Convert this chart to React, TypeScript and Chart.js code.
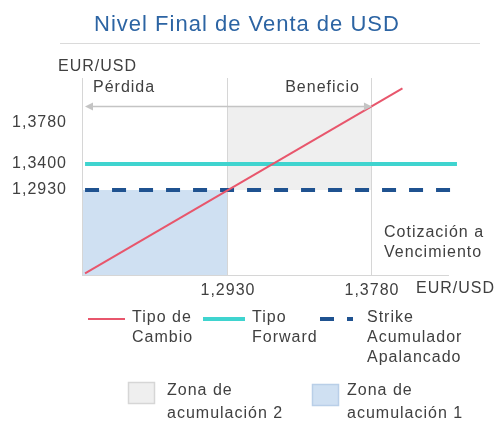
import React, { useEffect, useRef } from 'react';
import { Chart, registerables } from 'chart.js';

Chart.register(...registerables);

// ---- data ----
const titleText = 'Nivel Final de Venta de USD';
const axisUnit = 'EUR/USD';
const strikeLevel = 1.293; // Strike Acumulador / Zona 1 limit
const upperLevel = 1.378; // upper limit of Zona 2
const xTickValues = [1.293, 1.378];
const xTickLabels = ['1,2930', '1,3780'];
const yTickValues = [1.293, 1.3193, 1.3608]; // schematic positions as drawn
const yTickLabels = ['1,2930', '1,3400', '1,3780'];
const rateX = [1.2086, 1.396];
const rateY = [1.2086, 1.396];
const forwardX = [1.2086, 1.4282];
const forwardY = [1.3193, 1.3193];
const strikeX = [1.2086, 1.427];
const strikeY = [1.293, 1.293];
const xRange = [1.2068, 1.4229];
const yRange = [1.207, 1.4064];
const seriesLabels = [['Tipo de', 'Cambio'], ['Tipo', 'Forward'], ['Strike', 'Acumulador', 'Apalancado']];
const zoneLabels = [['Zona de', 'acumulación 2'], ['Zona de', 'acumulación 1']];
const lossLabel = 'Pérdida';
const gainLabel = 'Beneficio';
const maturityLabel = ['Cotización a', 'Vencimiento'];

// ---- style ----
const FONT = '"Liberation Sans", Arial, sans-serif';
const TEXT = '#404040';
const RED = '#e8566c';
const CYAN = '#3fd4cf';
const NAVY = '#1f5290';
const ZONE1 = '#cfe0f2';
const ZONE1_BORDER = '#b9cfe8';
const ZONE2 = '#efefef';
const ZONE2_BORDER = '#d6d6d6';
const GRID = '#d6d6d6';

const toPts = (xs: number[], ys: number[]) => xs.map((x, i) => ({ x, y: ys[i] }));

const decorPlugin = {
  id: 'decor',
  beforeLayout(chart: any) {
    chart.ctx.letterSpacing = '1px';
  },
  beforeDraw(chart: any) {
    const ctx = chart.ctx;
    ctx.letterSpacing = '1px';
    const xs = chart.scales.x;
    const ys = chart.scales.y;
    const area = chart.chartArea;
    ctx.save();
    // zones
    const x0 = area.left;
    const xs1 = xs.getPixelForValue(strikeLevel);
    const xs2 = xs.getPixelForValue(upperLevel);
    const ys1 = ys.getPixelForValue(strikeLevel);
    const ys2 = ys.getPixelForValue(upperLevel);
    ctx.fillStyle = ZONE1;
    ctx.fillRect(x0, ys1, xs1 - x0, area.bottom - ys1);
    ctx.fillStyle = ZONE2;
    ctx.fillRect(xs1, ys2, xs2 - xs1, ys1 - ys2);
    ctx.restore();
  },
  afterDraw(chart: any) {
    const ctx = chart.ctx;
    const xs = chart.scales.x;
    const ys = chart.scales.y;
    const area = chart.chartArea;
    ctx.save();
    ctx.letterSpacing = '1px';
    // title
    ctx.fillStyle = '#2c64a3';
    ctx.font = `22px ${FONT}`;
    ctx.textAlign = 'center';
    ctx.textBaseline = 'alphabetic';
    ctx.fillText(titleText, 247, 31);
    // rule
    ctx.strokeStyle = '#dadada';
    ctx.lineWidth = 1;
    ctx.beginPath();
    ctx.moveTo(60, 43.5);
    ctx.lineTo(480, 43.5);
    ctx.stroke();
    // axis titles
    ctx.fillStyle = TEXT;
    ctx.font = `16px ${FONT}`;
    ctx.textBaseline = 'middle';
    ctx.textAlign = 'left';
    ctx.fillText(axisUnit, 58, 67);
    ctx.fillText(axisUnit, 416, 289);
    // loss/gain labels
    ctx.fillText(lossLabel, 93, 88);
    ctx.textAlign = 'right';
    ctx.fillText(gainLabel, 360, 88);
    ctx.textAlign = 'left';
    ctx.fillText(maturityLabel[0], 384, 233);
    ctx.fillText(maturityLabel[1], 384, 253);
    // arrow
    const ay = Math.round(ys.getPixelForValue(upperLevel)) + 0.5;
    const ax1 = area.left + 3;
    const ax2 = xs.getPixelForValue(upperLevel);
    ctx.strokeStyle = '#c4c4c4';
    ctx.fillStyle = '#c4c4c4';
    ctx.lineWidth = 1.5;
    ctx.beginPath();
    ctx.moveTo(ax1 + 4, ay);
    ctx.lineTo(ax2 - 4, ay);
    ctx.stroke();
    ctx.beginPath();
    ctx.moveTo(ax1, ay);
    ctx.lineTo(ax1 + 8, ay - 4);
    ctx.lineTo(ax1 + 8, ay + 4);
    ctx.closePath();
    ctx.fill();
    ctx.beginPath();
    ctx.moveTo(ax2, ay);
    ctx.lineTo(ax2 - 8, ay - 4);
    ctx.lineTo(ax2 - 8, ay + 4);
    ctx.closePath();
    ctx.fill();

    // legend: series
    const ds = chart.data.datasets;
    const swStart = [88, 203, 320];
    const swLen = [37, 42, 33];
    const txtX = [132, 252, 367];
    const rowY = 318;
    const lh = 20;
    ds.forEach((d: any, i: number) => {
      ctx.save();
      ctx.strokeStyle = d.borderColor;
      ctx.lineWidth = d.borderWidth;
      ctx.setLineDash(d.borderDash || []);
      ctx.beginPath();
      ctx.moveTo(swStart[i], rowY + 1);
      ctx.lineTo(swStart[i] + swLen[i], rowY + 1);
      ctx.stroke();
      ctx.restore();
      ctx.fillStyle = TEXT;
      ctx.font = `16px ${FONT}`;
      ctx.textAlign = 'left';
      ctx.textBaseline = 'middle';
      seriesLabels[i].forEach((t, k) => ctx.fillText(t, txtX[i], rowY + k * lh));
    });
    // legend: zones
    const boxes = [
      { x: 128, y: 382, fill: ZONE2, border: ZONE2_BORDER, tx: 167 },
      { x: 312, y: 384, fill: ZONE1, border: ZONE1_BORDER, tx: 347 },
    ];
    boxes.forEach((b, i) => {
      ctx.fillStyle = b.fill;
      ctx.fillRect(b.x, b.y, 27, 22);
      ctx.strokeStyle = b.border;
      ctx.lineWidth = 1.5;
      ctx.strokeRect(b.x + 0.5, b.y + 0.5, 26, 21);
      ctx.fillStyle = TEXT;
      ctx.font = `16px ${FONT}`;
      ctx.textAlign = 'left';
      ctx.textBaseline = 'middle';
      zoneLabels[i].forEach((t, k) => ctx.fillText(t, b.tx, 391 + k * 23));
    });
    ctx.restore();
  },
};

export default function App() {
  const ref = useRef<HTMLCanvasElement | null>(null);
  useEffect(() => {
    if (!ref.current) return;
    const chart = new Chart(ref.current, {
      type: 'scatter',
      data: {
        datasets: [
          {
            label: seriesLabels[0].join(' '),
            data: toPts(rateX, rateY),
            showLine: true,
            borderColor: RED,
            borderWidth: 2,
            pointRadius: 0,
            clip: false,
          } as any,
          {
            label: seriesLabels[1].join(' '),
            data: toPts(forwardX, forwardY),
            showLine: true,
            borderColor: CYAN,
            borderWidth: 4,
            pointRadius: 0,
            clip: false,
          },
          {
            label: seriesLabels[2].join(' '),
            data: toPts(strikeX, strikeY),
            showLine: true,
            borderColor: NAVY,
            borderWidth: 4,
            borderDash: [14, 13],
            pointRadius: 0,
            clip: false,
          },
        ],
      },
      options: {
        animation: false,
        responsive: true,
        maintainAspectRatio: false,
        layout: { padding: { left: 0, top: 78, right: 50, bottom: 119 } },
        plugins: { legend: { display: false }, title: { display: false }, tooltip: { enabled: false } },
        scales: {
          x: {
            type: 'linear',
            min: xRange[0],
            max: xRange[1],
            afterFit: (s: any) => { s.height = 30; },
            afterBuildTicks: (s: any) => { s.ticks = xTickValues.map((v) => ({ value: v })); },
            ticks: {
              callback: (_v: any, i: number) => xTickLabels[i],
              color: TEXT,
              font: { family: FONT, size: 16 },
              padding: 6,
              maxRotation: 0,
              autoSkip: false,
            },
            grid: { color: GRID, drawTicks: false, lineWidth: 1 },
            border: { display: true, color: GRID, width: 1 },
          },
          y: {
            type: 'linear',
            min: yRange[0],
            max: yRange[1],
            afterFit: (s: any) => { s.width = 82; },
            afterBuildTicks: (s: any) => { s.ticks = yTickValues.map((v) => ({ value: v })); },
            ticks: {
              callback: (_v: any, i: number) => yTickLabels[i],
              color: TEXT,
              font: { family: FONT, size: 16 },
              padding: 15,
              autoSkip: false,
            },
            grid: { display: false, drawTicks: false },
            border: { display: true, color: GRID, width: 1 },
          },
        },
      },
      plugins: [decorPlugin],
    });
    return () => chart.destroy();
  }, []);
  return (
    <div style={{ position: 'fixed', left: 0, top: 0, width: 498, height: 424, background: '#fff' }}>
      <canvas ref={ref} />
    </div>
  );
}
